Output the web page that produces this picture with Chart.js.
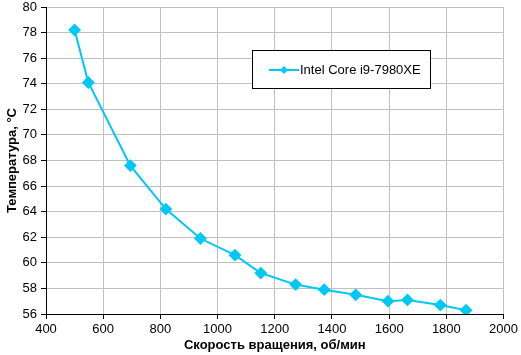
<!DOCTYPE html>
<html><head><meta charset="utf-8">
<script src="https://cdn.jsdelivr.net/npm/chart.js@4/dist/chart.umd.min.js"></script>
<style>html,body{margin:0;padding:0;background:#fff}#w{width:521px;height:355px}</style>
</head><body><div id="w"><canvas id="c"></canvas></div>
<script>
const seriesLabel = 'Intel Core i9-7980XE';
const rpm = [500, 548, 695, 819, 940, 1061, 1151, 1273, 1373, 1483, 1596, 1664, 1779, 1869];
const temp = [78.2, 74.1, 67.6, 64.2, 61.9, 60.6, 59.2, 58.3, 57.9, 57.5, 57.0, 57.1, 56.7, 56.3];
const xTitle = 'Скорость вращения, об/мин';
const yTitle = 'Температура, °C';
const xMin = 400, xMax = 2000, xStep = 200;
const yMin = 56, yMax = 80, yStep = 2;
const color = '#00c8f5';
const font = 'Liberation Sans, Arial, sans-serif';

const legendPlugin = {
  id: 'boxLegend',
  afterDraw(chart) {
    const ctx = chart.ctx;
    const x = 252.5, y = 50.5, w = 178, h = 38;
    ctx.save();
    ctx.fillStyle = '#fff';
    ctx.fillRect(x, y, w, h);
    ctx.strokeStyle = '#000'; ctx.lineWidth = 1;
    ctx.strokeRect(x, y, w, h);
    const ly = y + h / 2 + 0.5;
    ctx.strokeStyle = color; ctx.lineWidth = 2;
    ctx.beginPath(); ctx.moveTo(269, ly); ctx.lineTo(299, ly); ctx.stroke();
    ctx.fillStyle = color;
    ctx.beginPath(); ctx.moveTo(284, ly - 4); ctx.lineTo(288, ly); ctx.lineTo(284, ly + 4); ctx.lineTo(280, ly); ctx.closePath(); ctx.fill();
    ctx.fillStyle = '#000';
    ctx.font = '13px ' + font;
    ctx.textBaseline = 'middle';
    ctx.fillText(chart.data.datasets[0].label, 300, ly);
    ctx.restore();
  }
};

new Chart(document.getElementById('c'), {
  type: 'line',
  data: {
    datasets: [{
      label: seriesLabel,
      data: rpm.map((v, i) => ({x: v, y: temp[i]})),
      borderColor: color,
      backgroundColor: color,
      borderWidth: 2,
      pointStyle: 'rectRot',
      pointRadius: 5,
      pointHoverRadius: 5,
      tension: 0
    }]
  },
  options: {
    responsive: true,
    maintainAspectRatio: false,
    animation: false,
    layout: {padding: {top: 0, right: 13, left: 0, bottom: 0}},
    plugins: {legend: {display: false}, tooltip: {enabled: false}},
    scales: {
      x: {
        type: 'linear', min: xMin, max: xMax,
        ticks: {stepSize: xStep, color: '#000', font: {family: font, size: 13}, padding: 3, maxRotation: 0,
                callback: v => String(v)},
        grid: {color: '#c0c0c0', tickColor: '#000', tickLength: 5},
        border: {color: '#000', width: 1},
        title: {display: true, text: xTitle, color: '#000', font: {family: font, size: 13, weight: 'bold'}, padding: {top: 0, bottom: 2}},
        afterFit(s) { s.height = 41; }
      },
      y: {
        min: yMin, max: yMax,
        ticks: {stepSize: yStep, color: '#000', font: {family: font, size: 13}, padding: 4},
        grid: {color: '#c0c0c0', tickColor: '#000', tickLength: 5},
        border: {color: '#000', width: 1},
        title: {display: true, text: yTitle, color: '#000', font: {family: font, size: 13, weight: 'bold'}, padding: {top: 5, bottom: 2}},
        afterFit(s) { s.width = 46; s.paddingTop = 6; s.paddingBottom = 0; }
      }
    }
  },
  plugins: [legendPlugin]
});
</script>
</body></html>
